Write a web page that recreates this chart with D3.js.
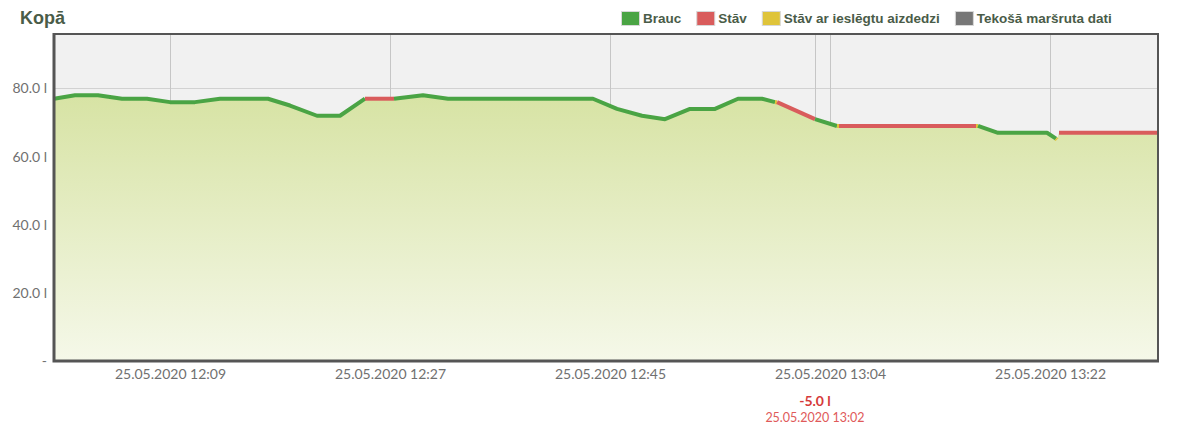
<!DOCTYPE html>
<html>
<head>
<meta charset="utf-8">
<script src="https://cdn.jsdelivr.net/npm/d3@7"></script>
<style>
  body { margin: 0; background: #fff; }
  svg { display: block; }
</style>
</head>
<body>
<script>
// fuel level readings, state of the segment that starts at each point
const day = '2020-05-25 ';
const times = ['11:59:20', '12:01:05', '12:03:00', '12:05:00', '12:07:05', '12:09:00', '12:11:05', '12:13:10',
  '12:17:10', '12:19:00', '12:21:15', '12:23:10', '12:25:15', '12:27:40', '12:30:05', '12:32:10',
  '12:44:15', '12:46:15', '12:48:20', '12:50:15', '12:52:20', '12:54:25', '12:56:20', '12:58:20',
  '12:59:25', '12:59:35', '13:02:45', '13:04:35', '13:04:45', '13:16:10', '13:16:20', '13:18:00',
  '13:22:05', '13:22:50', '13:22:55', '13:23:05', '13:31:20'];
const fuel = [77, 78, 78, 77, 77, 76, 76, 77,
  77, 75, 72, 72, 77, 77, 78, 77,
  77, 74, 72, 71, 74, 74, 77, 77,
  76, 76, 71, 69, 69, 69, 69, 67,
  67, 65.3, 65, 67, 67];
const states = ['drive', 'drive', 'drive', 'drive', 'drive', 'drive', 'drive', 'drive',
  'drive', 'drive', 'drive', 'drive', 'stop', 'drive', 'drive', 'drive',
  'drive', 'drive', 'drive', 'drive', 'drive', 'drive', 'drive', 'drive',
  'idle', 'stop', 'drive', 'idle', 'stop', 'idle', 'drive', 'drive',
  'drive', 'idle', 'none', 'stop', 'stop'];

const yTicks = [0, 20, 40, 60, 80];
const xTicks = ['12:09:00', '12:27:20', '12:45:40', '13:04:00', '13:22:20'];
const domainX = ['11:59:20', '13:31:20'];

const legendNames = ['Brauc', 'Stāv', 'Stāv ar ieslēgtu aizdedzi', 'Tekošā maršruta dati'];
const legendKeys = ['drive', 'stop', 'idle', 'route'];

const eventTime = '13:02:45';
const eventLabel = '-5.0 l';

const colors = { drive: '#4aa444', stop: '#d95c5c', idle: '#dfc43a', route: '#777777' };

const width = 1200, height = 435;
const plotL = 54, plotR = 1158, plotT = 34, plotB = 361;

const parse = d3.timeParse('%Y-%m-%d %H:%M:%S');
const t = (s) => parse(day + s);
const fmt = d3.timeFormat('%d.%m.%Y %H:%M');

const x = d3.scaleTime().domain(domainX.map(t)).range([plotL, plotR]);
const y = d3.scaleLinear().domain([0, 96]).range([plotB, plotT]);

const points = times.map((s, i) => ({ time: t(s), value: fuel[i], state: states[i] }));

// group consecutive points into coloured segments
const segs = [];
for (let i = 0; i < points.length - 1; i++) {
  const st = points[i].state;
  const last = segs[segs.length - 1];
  if (last && last.state === st && last.end === i) {
    last.pts.push(points[i + 1]);
    last.end = i + 1;
  } else {
    segs.push({ state: st, pts: [points[i], points[i + 1]], end: i + 1 });
  }
}

const svg = d3.select('body').append('svg')
  .attr('width', width)
  .attr('height', height);

const defs = svg.append('defs');
const grad = defs.append('linearGradient')
  .attr('id', 'fill')
  .attr('gradientUnits', 'userSpaceOnUse')
  .attr('x1', 0).attr('x2', 0)
  .attr('y1', y(78)).attr('y2', y(0));
grad.append('stop').attr('offset', '0%').attr('stop-color', '#d7e3a4');
grad.append('stop').attr('offset', '100%').attr('stop-color', '#f5f8e9');

svg.append('text')
  .attr('x', 20)
  .attr('y', 24)
  .style('font-family', 'Liberation Sans, Arial, sans-serif')
  .style('font-weight', 'bold')
  .style('font-size', '18px')
  .style('fill', '#4a5c48')
  .text('Kopā');

// legend
const legend = svg.append('g')
  .style('font-family', 'Liberation Sans, Arial, sans-serif')
  .style('font-weight', 'bold')
  .style('font-size', '13.5px');
let lx = 621;
legendNames.forEach((name, i) => {
  legend.append('rect')
    .attr('x', lx + 0.5).attr('y', 11.5)
    .attr('width', 18).attr('height', 14)
    .attr('fill', colors[legendKeys[i]])
    .attr('stroke', '#d8d8d8');
  const txt = legend.append('text')
    .attr('x', lx + 22)
    .attr('y', 23)
    .style('fill', '#4a5c48')
    .text(name);
  lx += 22 + txt.node().getComputedTextLength() + 15;
});

// plot background and grid
svg.append('rect')
  .attr('x', plotL).attr('y', plotT)
  .attr('width', plotR - plotL).attr('height', plotB - plotT)
  .attr('fill', '#f1f1f1');

svg.append('g')
  .selectAll('line')
  .data(yTicks.filter(d => d > 0))
  .join('line')
  .attr('x1', plotL).attr('x2', plotR)
  .attr('y1', d => Math.round(y(d)) + 0.5)
  .attr('y2', d => Math.round(y(d)) + 0.5)
  .attr('stroke', '#d2d2d2');

svg.append('g')
  .selectAll('line')
  .data(xTicks.map(t).concat([t(eventTime)]))
  .join('line')
  .attr('x1', d => Math.round(x(d)) + 0.5)
  .attr('x2', d => Math.round(x(d)) + 0.5)
  .attr('y1', plotT).attr('y2', plotB)
  .attr('stroke', '#c6c6c6');

// area + line per segment
const area = d3.area()
  .x(d => x(d.time))
  .y0(y(0))
  .y1(d => y(d.value));
const line = d3.line()
  .x(d => x(d.time))
  .y(d => y(d.value));

svg.append('g')
  .selectAll('path')
  .data(segs)
  .join('path')
  .attr('d', d => area(d.pts))
  .attr('fill', 'url(#fill)');

svg.append('g')
  .selectAll('path')
  .data(segs.filter(d => d.state !== 'none'))
  .join('path')
  .attr('d', d => line(d.pts))
  .attr('fill', 'none')
  .attr('stroke', d => colors[d.state])
  .attr('stroke-width', 4)
  .attr('stroke-linejoin', 'round')
  .attr('stroke-linecap', 'butt');

// frame
svg.append('rect')
  .attr('x', plotL).attr('y', plotT)
  .attr('width', plotR - plotL).attr('height', plotB - plotT)
  .attr('fill', 'none')
  .attr('stroke', '#555')
  .attr('stroke-width', 2);
svg.append('path')
  .attr('d', `M${plotL},${plotT - 1}V${plotB}H${plotR + 1}`)
  .attr('fill', 'none')
  .attr('stroke', '#555')
  .attr('stroke-width', 3);

// axes
const yAxis = d3.axisLeft(y)
  .tickValues(yTicks)
  .tickSize(0)
  .tickPadding(6)
  .tickFormat(d => d === 0 ? '-' : d3.format('.1f')(d) + ' l');
svg.append('g')
  .attr('transform', `translate(${plotL - 1},0)`)
  .call(yAxis)
  .call(g => g.select('.domain').remove())
  .call(g => g.selectAll('text')
    .style('font-family', 'Lato, sans-serif')
    .style('font-size', '14px')
    .style('fill', '#707070'));

const xAxis = d3.axisBottom(x)
  .tickValues(xTicks.map(t))
  .tickSize(0)
  .tickPadding(8)
  .tickFormat(fmt);
svg.append('g')
  .attr('transform', `translate(0,${plotB})`)
  .call(xAxis)
  .call(g => g.select('.domain').remove())
  .call(g => g.selectAll('text')
    .style('font-family', 'Lato, sans-serif')
    .style('font-size', '14px')
    .style('fill', '#707070'));

// fuel event annotation
const ex = x(t(eventTime));
svg.append('text')
  .attr('x', ex).attr('y', 406)
  .attr('text-anchor', 'middle')
  .style('font-family', 'Lato, sans-serif')
  .style('font-weight', 'bold')
  .style('font-size', '14px')
  .style('fill', '#d63a3a')
  .text(eventLabel);
svg.append('text')
  .attr('x', ex).attr('y', 422)
  .attr('text-anchor', 'middle')
  .style('font-family', 'Lato, sans-serif')
  .style('font-size', '12.5px')
  .style('fill', '#e05a5a')
  .text(fmt(t(eventTime)));
</script>
</body>
</html>
